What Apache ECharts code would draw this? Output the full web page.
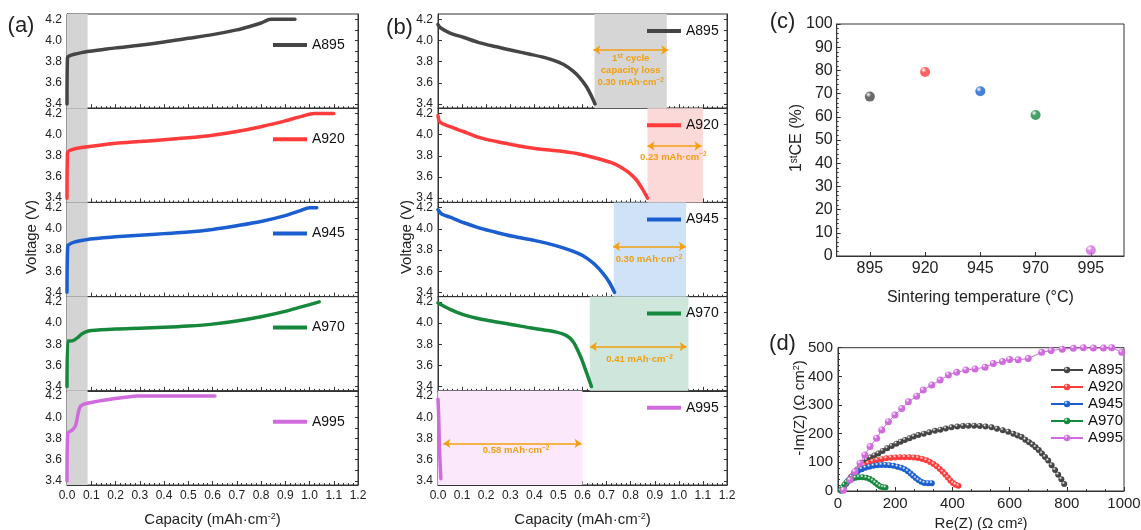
<!DOCTYPE html>
<html>
<head>
<meta charset="UTF-8">
<title>Charge/discharge, 1st CE and EIS</title>
<script src="https://cdn.jsdelivr.net/npm/echarts@6.0.0/dist/echarts.min.js"></script>
</head>
<body style="margin:0;padding:0;background:#fff">
<div id="main" style="width:1141px;height:530px;"></div>
<script>
// ---- data ----
var samples = ['A895', 'A920', 'A945', 'A970', 'A995'];
var colors = ['#454545', '#ff3b3b', '#1a5ecf', '#16883c', '#cf6bdc'];

// (a) first charge, [capacity, voltage]
var chargeA895 = [[0,3.40],[0.002,3.84],[0.01,3.855],[0.03,3.87],[0.06,3.885],[0.085,3.895],[0.15,3.915],[0.2,3.93],[0.3,3.955],[0.4,3.985],[0.5,4.02],[0.6,4.055],[0.7,4.10],[0.75,4.13],[0.8,4.165],[0.84,4.2],[0.94,4.2]];
var chargeA920 = [[0,3.40],[0.002,3.83],[0.01,3.85],[0.03,3.865],[0.06,3.878],[0.085,3.886],[0.15,3.905],[0.2,3.918],[0.3,3.935],[0.4,3.952],[0.5,3.97],[0.6,3.995],[0.7,4.03],[0.8,4.075],[0.9,4.13],[0.97,4.175],[1.02,4.2],[1.10,4.2]];
var chargeA945 = [[0,3.40],[0.003,3.84],[0.01,3.855],[0.03,3.875],[0.06,3.89],[0.085,3.90],[0.15,3.915],[0.2,3.925],[0.3,3.94],[0.4,3.955],[0.5,3.97],[0.6,3.995],[0.7,4.03],[0.8,4.07],[0.9,4.125],[0.96,4.17],[1.0,4.2],[1.03,4.2]];
var chargeA970 = [[0,3.40],[0.003,3.83],[0.015,3.83],[0.03,3.84],[0.045,3.865],[0.06,3.895],[0.075,3.915],[0.1,3.93],[0.2,3.945],[0.3,3.952],[0.4,3.96],[0.5,3.972],[0.6,3.99],[0.7,4.02],[0.8,4.06],[0.9,4.11],[0.97,4.155],[1.04,4.2]];
var chargeA995 = [[0,3.40],[0.003,3.85],[0.015,3.87],[0.025,3.885],[0.035,3.92],[0.042,3.99],[0.048,4.06],[0.056,4.105],[0.07,4.125],[0.1,4.14],[0.15,4.16],[0.2,4.178],[0.25,4.192],[0.29,4.2],[0.61,4.2]];

// (b) first discharge
var dischargeA895 = [[0,4.15],[0.01,4.12],[0.05,4.07],[0.105,4.03],[0.17,3.98],[0.243,3.94],[0.31,3.905],[0.382,3.87],[0.44,3.84],[0.478,3.815],[0.52,3.775],[0.561,3.71],[0.59,3.645],[0.616,3.565],[0.636,3.48],[0.652,3.40]];
var dischargeA920 = [[0,4.18],[0.008,4.12],[0.05,4.075],[0.105,4.03],[0.17,3.975],[0.243,3.935],[0.31,3.905],[0.382,3.877],[0.45,3.857],[0.52,3.84],[0.59,3.815],[0.658,3.777],[0.72,3.735],[0.754,3.70],[0.79,3.645],[0.823,3.574],[0.848,3.49],[0.87,3.40]];
var dischargeA945 = [[0,4.18],[0.015,4.14],[0.05,4.11],[0.105,4.06],[0.17,4.01],[0.243,3.966],[0.31,3.93],[0.382,3.90],[0.45,3.865],[0.52,3.82],[0.58,3.77],[0.616,3.726],[0.65,3.665],[0.685,3.58],[0.71,3.50],[0.733,3.40]];
var dischargeA970 = [[0,4.19],[0.05,4.13],[0.105,4.08],[0.17,4.04],[0.243,4.01],[0.31,3.985],[0.382,3.955],[0.44,3.935],[0.492,3.914],[0.525,3.89],[0.547,3.86],[0.565,3.81],[0.582,3.733],[0.598,3.65],[0.61,3.574],[0.625,3.48],[0.637,3.40]];
var dischargeA995 = [[0,4.17],[0.003,4.0],[0.005,3.8],[0.008,3.6],[0.012,3.42]];

// (b) capacity-loss bands [from, to], arrows [from, to, voltage], label anchor [cap, V]
var lossBands = [[0.65, 0.95], [0.87, 1.10], [0.73, 1.03], [0.63, 1.04], [0, 0.60]];
var lossArrows = [[0.645, 0.956, 3.91], [0.87, 1.094, 3.893], [0.727, 1.029, 3.833], [0.631, 1.032, 3.777], [0.022, 0.596, 3.753]];
var lossLabelAt = [[0.80, 3.713], [0.977, 3.789], [0.876, 3.708], [0.837, 3.654], [0.324, 3.684]];
var lossValues = ['0.30', '0.23', '0.30', '0.41', '0.58'];
var chargeBand = [0, 0.085];

var voltageTicks = [3.4, 3.6, 3.8, 4.0, 4.2];
var voltageMinor = [3.4, 3.5, 3.6, 3.7, 3.8, 3.9, 4.0, 4.1, 4.2];

// (c) first-cycle coulombic efficiency
var temps = [895, 920, 945, 970, 995];
var firstCE = [68.7, 79.3, 71.0, 60.8, 2.5];

// (d) Nyquist, [Re, -Im]
var nyqA895 = [[10,2],[18,12],[27,24],[36,36],[46,49],[56,62],[67,75],[78,87],[89,98],[100,108],[113,117],[127,124],[141,131],[156,140],[172,149],[188,157],[204,165],[219,172],[234,178],[250,184],[265,190],[281,195],[300,200],[319,205],[339,210],[358,214],[377,218],[397,222],[417,225],[437,227],[456,228],[476,228],[496,227],[516,225],[537,222],[556,217],[576,212],[595,207],[613,200],[628,194],[642,188],[655,179],[668,170],[680,162],[691,153],[702,143],[713,131],[724,119],[735,106],[747,90],[759,73],[770,57],[781,41],[791,24]];
var nyqA920 = [[12,3],[20,14],[30,28],[40,41],[52,55],[64,67],[78,79],[92,89],[106,97],[121,103],[137,108],[153,111],[169,114],[185,116],[201,117],[217,118],[233,118],[249,118],[265,117],[280,115],[295,112],[309,107],[322,101],[334,94],[345,86],[356,77],[366,67],[375,58],[384,47],[393,37],[402,28],[411,22],[421,18]];
var nyqA945 = [[12,3],[20,14],[29,27],[38,38],[48,50],[58,60],[70,70],[83,76],[96,81],[110,85],[124,88],[138,90],[152,91],[166,91],[180,90],[194,88],[208,85],[221,81],[233,76],[244,69],[254,61],[263,53],[272,45],[281,38],[291,32],[302,28],[315,27],[328,27]];
var nyqA970 = [[10,2],[16,12],[23,22],[31,31],[40,38],[50,43],[61,46],[73,48],[86,48],[99,46],[111,42],[121,36],[130,29],[139,22],[148,16],[157,13],[166,12]];
var nyqA995 = [[19,3],[42,38],[59,67],[77,97],[94,126],[112,155],[135,184],[153,213],[176,242],[199,265],[223,288],[246,311],[275,331],[298,352],[328,370],[357,387],[386,405],[415,414],[447,422],[479,426],[514,432],[543,445],[575,452],[600,459],[630,458],[665,462],[712,484],[745,490],[784,495],[823,498],[858,500],[893,499],[928,499],[957,500],[992,484]];

var charge = [chargeA895, chargeA920, chargeA945, chargeA970, chargeA995];
var discharge = [dischargeA895, dischargeA920, dischargeA945, dischargeA970, dischargeA995];
var nyquist = [nyqA895, nyqA920, nyqA945, nyqA970, nyqA995];

// ---- layout ----
var FONT = '"Liberation Sans", Arial, sans-serif';
var INK = '#222';
var ORANGE = '#f0a010';
var bandColors = ['#d6d6d6', '#fcd9d9', '#cfe2f7', '#cfe6dc', '#fbe9fb'];
var panelLeft = [67, 438];
var panelWidth = [291, 289];
var subH = 94.2;
function subTop(i) { return 14 + i * subH; }

function sphere(c) {
    return {
        type: 'radial', x: 0.35, y: 0.3, r: 0.8,
        colorStops: [{offset: 0, color: '#ffffff'}, {offset: 0.35, color: c}, {offset: 1, color: c}]
    };
}

function textEl(x, y, text, size, rot, rich) {
    return {type: 'text', x: x, y: y, rotation: rot || 0, silent: true,
        style: {text: text, font: size + 'px ' + FONT, fill: INK, align: 'center', verticalAlign: 'middle', rich: rich}};
}

var axisLine = {show: true, lineStyle: {color: '#333', width: 1}};
var grids = [], xAxes = [], yAxes = [], series = [], legends = [];

// (d) series first so its legend picks up line+marker icons
nyquist.forEach(function (pts, i) {
    series.push({
        name: samples[i], type: 'line', xAxisIndex: 11, yAxisIndex: 21,
        data: pts, symbol: 'circle', symbolSize: i === 4 ? 7 : 6, showSymbol: true,
        lineStyle: {color: colors[i], width: 1},
        itemStyle: {color: sphere(colors[i]), borderWidth: 0},
        z: i === 4 ? 3 : 2
    });
});

for (var p = 0; p < 2; p++) {
    for (var i = 0; i < 5; i++) {
        var k = p * 5 + i;
        grids.push({left: panelLeft[p], top: subTop(i), width: panelWidth[p], height: subH,
            show: true, borderColor: '#333', borderWidth: 1, outerBoundsMode: 'none'});
        xAxes.push({
            type: 'value', gridIndex: k, min: 0, max: 1.2, interval: 0.1,
            axisLine: axisLine,
            axisTick: {inside: true, length: 4, lineStyle: {color: '#333'}},
            minorTick: {show: true, splitNumber: 5, length: 2, lineStyle: {color: '#333'}},
            splitLine: {show: false},
            axisLabel: {show: i === 4, fontSize: 12, color: INK, margin: 5, fontFamily: FONT,
                formatter: function (v) { return v.toFixed(1); }},
            name: i === 4 ? '{n|Capacity (mAh·cm}{s|-2}{n|)}' : '',
            nameLocation: 'middle', nameGap: 27,
            nameTextStyle: {rich: {
                n: {fontSize: 15, color: INK, fontFamily: FONT},
                s: {fontSize: 9, color: INK, fontFamily: FONT, verticalAlign: 'top'}
            }}
        });
        yAxes.push({
            type: 'value', gridIndex: k, min: 3.36, max: 4.25, position: 'left',
            axisLine: axisLine,
            axisTick: {inside: true, length: 4, customValues: voltageTicks, lineStyle: {color: '#333'}},
            splitLine: {show: false},
            axisLabel: {customValues: voltageTicks, fontSize: 12, color: INK, margin: 5, fontFamily: FONT,
                formatter: function (v) { return v.toFixed(1); }}
        });
        yAxes.push({
            type: 'value', gridIndex: k, min: 3.36, max: 4.25, position: 'right',
            axisLine: axisLine,
            axisTick: {inside: true, length: 3, customValues: voltageMinor, lineStyle: {color: '#333'}},
            splitLine: {show: false},
            axisLabel: {show: false}
        });

        var s = {
            name: samples[i], type: 'line', xAxisIndex: k, yAxisIndex: 2 * k,
            data: p === 0 ? charge[i] : discharge[i],
            showSymbol: false, smooth: 0.3,
            lineStyle: {color: colors[i], width: 3.5, cap: 'round', join: 'round'},
            itemStyle: {color: colors[i]},
            z: 3
        };
        if (p === 0) {
            s.markArea = {silent: true, itemStyle: {color: '#d4d4d4'},
                data: [[{xAxis: chargeBand[0]}, {xAxis: chargeBand[1]}]]};
        } else {
            var a = lossArrows[i];
            var labelText = i === 0
                ? '{t|1}{u|st}{t| cycle}\n{t|capacity loss}\n{t|' + lossValues[i] + ' mAh·cm}{u|−2}'
                : '{t|' + lossValues[i] + ' mAh·cm}{u|−2}';
            s.markArea = {silent: true, itemStyle: {color: bandColors[i]},
                data: [[{xAxis: lossBands[i][0]}, {xAxis: lossBands[i][1]}]]};
            s.markLine = {silent: true, symbol: ['arrow', 'arrow'], symbolSize: 7,
                lineStyle: {color: ORANGE, width: 1.5, type: 'solid'},
                itemStyle: {color: ORANGE},
                label: {show: false}, animation: false,
                data: [[{coord: [a[0], a[2]]}, {coord: [a[1], a[2]]}]]};
            s.markPoint = {silent: true, symbol: 'circle', symbolSize: 1,
                itemStyle: {color: 'rgba(0,0,0,0)'},
                label: {show: true, position: 'inside', formatter: labelText, align: 'center',
                    rich: {
                        t: {fontSize: 9.5, fontWeight: 'bold', color: ORANGE, fontFamily: FONT, lineHeight: 12},
                        u: {fontSize: 6.5, fontWeight: 'bold', color: ORANGE, fontFamily: FONT, lineHeight: 12, verticalAlign: 'top'}
                    }},
                data: [{coord: lossLabelAt[i]}]};
        }
        series.push(s);

        legends.push({
            left: p === 0 ? 273 : 647, top: subTop(i) + (p === 0 ? 31 : 17) - 7,
            padding: 0, itemWidth: 34, itemHeight: 4, selectedMode: false,
            textStyle: {fontSize: 14, color: '#111', fontFamily: FONT},
            data: [{name: samples[i], icon: 'rect', itemStyle: {color: colors[i], borderWidth: 0}}]
        });
    }
}

// (c)
grids.push({left: 836.7, top: 24, width: 287.3, height: 232, show: true, borderColor: '#333', borderWidth: 1, outerBoundsMode: 'none'});
xAxes.push({
    type: 'value', gridIndex: 10, min: 880, max: 1010,
    axisLine: axisLine,
    axisTick: {inside: true, length: 4, customValues: temps, lineStyle: {color: '#333'}},
    axisLabel: {customValues: temps, fontSize: 16, color: INK, margin: 5, fontFamily: FONT,
        formatter: function (v) { return String(v); }},
    splitLine: {show: false},
    name: 'Sintering temperature (°C)', nameLocation: 'middle', nameGap: 34,
    nameTextStyle: {fontSize: 16, color: INK, fontFamily: FONT}
});
yAxes.push({
    type: 'value', gridIndex: 10, min: 0, max: 100, interval: 10,
    axisLine: axisLine,
    axisTick: {inside: true, length: 4, lineStyle: {color: '#333'}},
    minorTick: {show: true, splitNumber: 5, length: 2, lineStyle: {color: '#333'}},
    axisLabel: {fontSize: 16, color: INK, margin: 4, fontFamily: FONT},
    splitLine: {show: false}
});
series.push({
    type: 'scatter', xAxisIndex: 10, yAxisIndex: 20, symbolSize: 10,
    data: temps.map(function (t, i) {
        return {value: [t, firstCE[i]], itemStyle: {color: sphere(colors[i])}};
    })
});

// (d)
grids.push({left: 838, top: 347.7, width: 286, height: 143.3, show: true, borderColor: '#333', borderWidth: 1, outerBoundsMode: 'none'});
xAxes.push({
    type: 'value', gridIndex: 11, min: 0, max: 1000, interval: 200,
    axisLine: axisLine,
    axisTick: {inside: true, length: 4, lineStyle: {color: '#333'}},
    minorTick: {show: true, splitNumber: 3, length: 2, lineStyle: {color: '#333'}},
    axisLabel: {fontSize: 15, color: INK, margin: 5, fontFamily: FONT,
        formatter: function (v) { return String(v); }},
    splitLine: {show: false},
    name: 'Re(Z) (Ω cm²)', nameLocation: 'middle', nameGap: 25,
    nameTextStyle: {fontSize: 15, color: INK, fontFamily: FONT}
});
yAxes.push({
    type: 'value', gridIndex: 11, min: 0, max: 500, interval: 100,
    axisLine: axisLine,
    axisTick: {inside: true, length: 4, lineStyle: {color: '#333'}},
    minorTick: {show: true, splitNumber: 5, length: 2, lineStyle: {color: '#333'}},
    axisLabel: {fontSize: 15, color: INK, margin: 5, fontFamily: FONT},
    splitLine: {show: false}
});
legends.push({
    orient: 'vertical', left: 1050, top: 362.5, padding: 0,
    itemWidth: 32, itemHeight: 8, itemGap: 2, selectedMode: false,
    textStyle: {fontSize: 15, color: '#111', fontFamily: FONT},
    data: samples
});

var supRich = {n: {fontSize: 15, fontFamily: FONT, fill: INK}, s: {fontSize: 9, fontFamily: FONT, fill: INK, verticalAlign: 'top'}};
var ceRich = {n: {fontSize: 16, fontFamily: FONT, fill: INK}, s: {fontSize: 10, fontFamily: FONT, fill: INK, verticalAlign: 'top'}};

var graphics = [
    textEl(21, 26, '(a)', 22), textEl(399.5, 27.5, '(b)', 22),
    textEl(782.5, 22, '(c)', 22), textEl(782.5, 344, '(d)', 22),
    textEl(32, 237, 'Voltage (V)', 15, Math.PI / 2),
    textEl(406.7, 237, 'Voltage (V)', 15, Math.PI / 2),
    textEl(797, 138, '{n|1}{s|st}{n|CE (%)}', 16, Math.PI / 2, ceRich),
    textEl(800, 408, '{n|-Im(Z) (Ω cm}{s|2}{n|)}', 15, Math.PI / 2, supRich)
];

var chart = echarts.init(document.getElementById('main'), null, {renderer: 'canvas'});
chart.setOption({
    animation: false,
    backgroundColor: '#fff',
    textStyle: {fontFamily: FONT},
    grid: grids,
    xAxis: xAxes,
    yAxis: yAxes,
    legend: legends,
    series: series,
    graphic: graphics
});
</script>
</body>
</html>
